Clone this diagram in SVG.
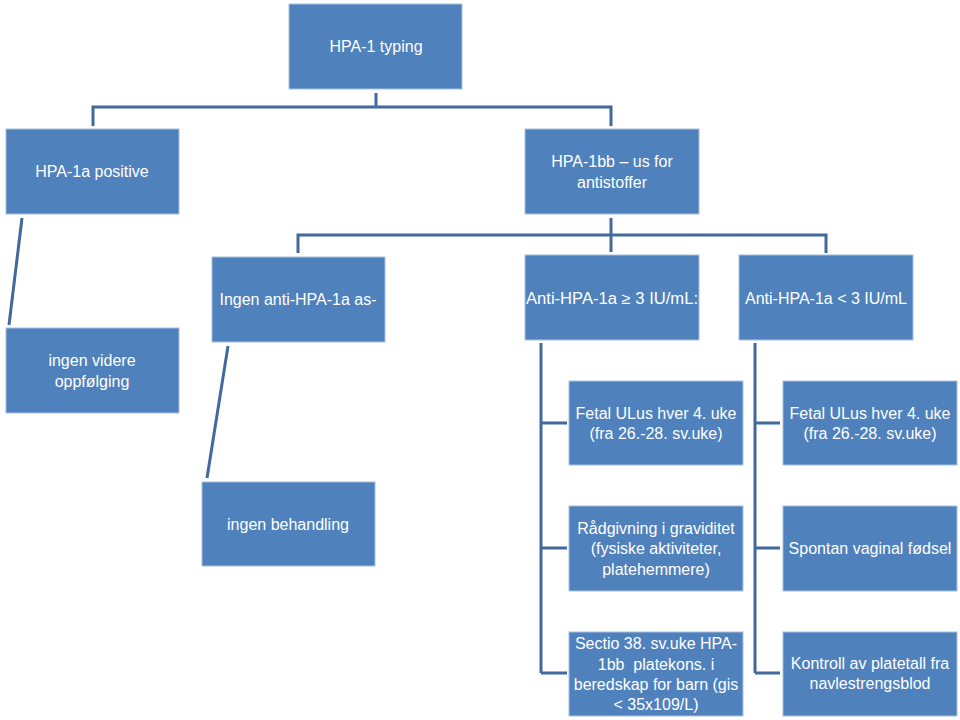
<svg xmlns="http://www.w3.org/2000/svg" width="960" height="720" viewBox="0 0 960 720">
<style>
.box{fill:#4f81bd;stroke:#a9c0de;stroke-width:1}
.t{font-family:"Liberation Sans",Arial,sans-serif;font-size:16px;fill:#ffffff;text-anchor:middle}
.c{fill:none;stroke:#41699c;stroke-width:3}
</style>
<rect width="960" height="720" fill="#ffffff"/>
<g id="connectors">
<path class="c" d="M376 93 V107 M93 126 V107 H611 V126"/>
<path class="c" d="M611 218 V252 M298 253 V235 H826 V253"/>
<path class="c" d="M22 218 L9 325"/>
<path class="c" d="M228 346 L207 478"/>
<path class="c" d="M541 343 V673 M541 423 H567 M541 548 H567 M541 673 H567"/>
<path class="c" d="M755 343 V673 M755 423 H780 M755 548 H780 M755 673 H780"/>
</g>
<g id="n1"><rect class="box" x="289" y="4" width="173" height="85"/><text class="t" x="376" y="52">HPA-1 typing</text></g>
<g id="n2"><rect class="box" x="6" y="129" width="173" height="85"/><text class="t" x="92" y="177">HPA-1a positive</text></g>
<g id="n3"><rect class="box" x="525" y="129" width="174" height="85"/><text class="t" x="612" y="167">HPA-1bb – us for</text><text class="t" x="612" y="188">antistoffer</text></g>
<g id="n4"><rect class="box" x="6" y="328" width="173" height="85"/><text class="t" x="92" y="366">ingen videre</text><text class="t" x="92" y="387">oppfølging</text></g>
<g id="n5"><rect class="box" x="212" y="257" width="173" height="85"/><text class="t" x="298" y="305">Ingen anti-HPA-1a as-</text></g>
<g id="n6"><rect class="box" x="525" y="255" width="174" height="85"/><text class="t" x="612" y="304" textLength="172" lengthAdjust="spacingAndGlyphs">Anti-HPA-1a ≥ 3 IU/mL:</text></g>
<g id="n7"><rect class="box" x="739" y="255" width="174" height="85"/><text class="t" x="826" y="304">Anti-HPA-1a &lt; 3 IU/mL</text></g>
<g id="n8"><rect class="box" x="202" y="482" width="173" height="84"/><text class="t" x="288" y="530">ingen behandling</text></g>
<g id="n9"><rect class="box" x="569" y="381" width="174" height="84"/><text class="t" x="656" y="419">Fetal ULus hver 4. uke</text><text class="t" x="656" y="439">(fra 26.-28. sv.uke)</text></g>
<g id="n10"><rect class="box" x="783" y="381" width="174" height="84"/><text class="t" x="870" y="419">Fetal ULus hver 4. uke</text><text class="t" x="870" y="439">(fra 26.-28. sv.uke)</text></g>
<g id="n11"><rect class="box" x="569" y="506" width="174" height="85"/><text class="t" x="656" y="534">Rådgivning i graviditet</text><text class="t" x="656" y="554">(fysiske aktiviteter,</text><text class="t" x="656" y="575">platehemmere)</text></g>
<g id="n12"><rect class="box" x="783" y="506" width="174" height="85"/><text class="t" x="870" y="554">Spontan vaginal fødsel</text></g>
<g id="n13"><rect class="box" x="569" y="632" width="174" height="84"/><text class="t" x="656" y="649">Sectio 38. sv.uke HPA-</text><text class="t" x="656" y="670" xml:space="preserve">1bb  platekons. i</text><text class="t" x="656" y="690">beredskap for barn (gis</text><text class="t" x="656" y="710">&lt; 35x109/L)</text></g>
<g id="n14"><rect class="box" x="783" y="632" width="174" height="84"/><text class="t" x="870" y="669">Kontroll av platetall fra</text><text class="t" x="870" y="689">navlestrengsblod</text></g>
</svg>
